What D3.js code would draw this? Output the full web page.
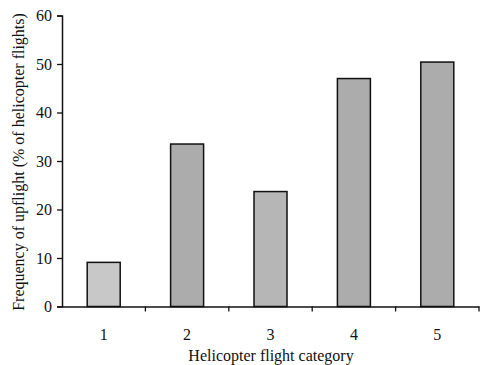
<!DOCTYPE html>
<html><head><meta charset="utf-8">
<script src="https://cdn.jsdelivr.net/npm/d3@7"></script>
<style>body{margin:0;background:#fff}svg{display:block}text{font-family:"Liberation Serif","Times New Roman",serif;fill:#111}</style>
</head><body>
<script>
const categories = ["1","2","3","4","5"];
const values = [9.1, 33.5, 23.7, 47.0, 50.4];
const yTicks = [0,10,20,30,40,50,60];
const barColors = ["#c8c8c8","#acacac","#b6b6b6","#acacac","#acacac"];

const W=489,H=365;
const m={left:62,right:10,top:16,bottom:58};
const svg=d3.select("body").append("svg").attr("width",W).attr("height",H);
const xt=d3.scaleBand().domain(categories).range([m.left,479]);
const y=d3.scaleLinear().domain([0,60]).range([306.5,15.5]);

svg.selectAll("rect.bar").data(values).join("rect")
  .attr("class","bar")
  .attr("x",(d,i)=>xt(categories[i])+xt.bandwidth()/2-16.5)
  .attr("width",33)
  .attr("y",d=>y(d))
  .attr("height",d=>y(0)-y(d))
  .attr("fill",(d,i)=>barColors[i])
  .attr("stroke","#111").attr("stroke-width",1.5);

// y axis
const ya=svg.append("g").attr("transform",`translate(${m.left},0)`)
  .call(d3.axisLeft(y).tickValues(yTicks).tickSize(5).tickPadding(5));
ya.select(".domain").attr("stroke","#111").attr("stroke-width",1.5);
ya.selectAll(".tick line").attr("stroke","#111").attr("stroke-width",1.3);
ya.selectAll("text").style("font-size","16px").attr("fill","#111");

// x axis
const xa=svg.append("g").attr("transform",`translate(0,${y(0)})`)
  .call(d3.axisBottom(xt).tickValues([]).tickSizeOuter(0));
xa.select(".domain").attr("stroke","#111").attr("stroke-width",1.5);
const edges=categories.map(c=>xt(c)).concat([xt(categories[4])+xt.bandwidth()]);
svg.selectAll("line.xt").data(edges.slice(1)).join("line").attr("class","xt")
  .attr("x1",d=>d).attr("x2",d=>d).attr("y1",y(0)).attr("y2",y(0)+5)
  .attr("stroke","#111").attr("stroke-width",1.3);
svg.selectAll("text.xl").data(categories).join("text").attr("class","xl")
  .attr("x",c=>xt(c)+xt.bandwidth()/2).attr("y",340)
  .attr("text-anchor","middle").style("font-size","16px").text(c=>c);

svg.append("text").attr("x",271).attr("y",361).attr("text-anchor","middle")
  .style("font-size","16px").text("Helicopter flight category");
svg.append("text").attr("transform","translate(24,162) rotate(-90)")
  .attr("text-anchor","middle").style("font-size","16px")
  .text("Frequency of upflight (% of helicopter flights)");
</script>
</body></html>
